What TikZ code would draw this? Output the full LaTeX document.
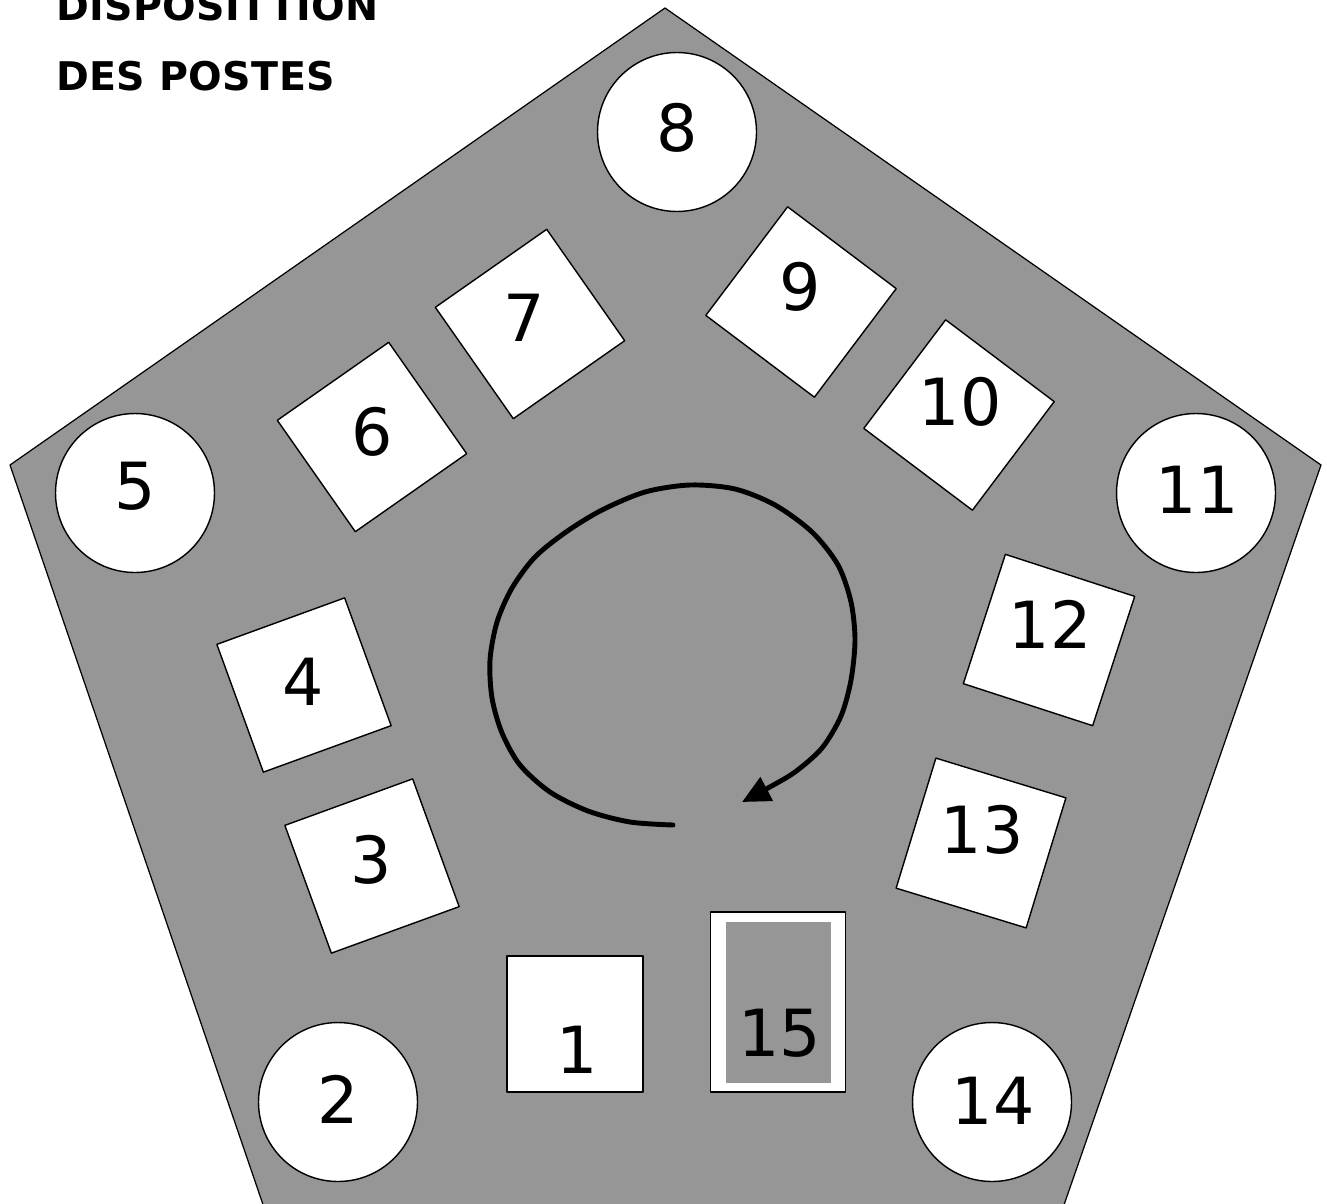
\documentclass[tikz,border=0pt]{standalone}
\usepackage{fontspec}
\setmainfont{DejaVu Sans}
\newfontfamily\titrefont{DejaVu Sans}[LetterSpace=1]
\usetikzlibrary{arrows.meta}
\definecolor{psSol}{HTML}{969696}
\definecolor{psInk}{HTML}{000000}
\tikzset{
  ps plan/.style={x=0.02cm, y=-0.02cm, line join=round},
  ps sol/.style={fill=psSol, draw=psInk, line width=0.7pt},
  ps rond/.style={circle, draw=psInk, fill=white, line width=0.8pt,
    minimum size=3.18cm, inner sep=0pt},
  ps carre/.style={rectangle, draw=psInk, fill=white, line width=0.8pt,
    minimum size=2.72cm, inner sep=0pt},
  ps num/.style={font=\fontsize{37}{44}\selectfont, text=psInk, inner sep=0pt},
  ps titre/.style={font=\titrefont\bfseries\fontsize{22.5}{27}\selectfont,
    text=psInk, anchor=base west, inner sep=0pt},
  ps sens/.style={-{Triangle[length=0.56cm,width=0.52cm]}, draw=psInk,
    line width=2.8pt, line cap=round}
}

\begin{document}
\begin{tikzpicture}[ps plan]
\clip (0,0) rectangle (1327,1203);
\fill[white] (0,0) rectangle (1327,1203);
% salle
\draw[ps sol] (665,8) -- (1321,465) -- (1057,1225) -- (270,1225) -- (10,465) -- cycle;
% titre
\node[ps titre] (titre1) at (56,21) {DISPOSITTION};
\node[ps titre] (titre2) at (56,91) {DES POSTES};
% postes ronds
\node[ps rond] (p8) at (677,132) {};
\node[ps rond] (p5) at (135,493) {};
\node[ps rond] (p11) at (1196,493) {};
\node[ps rond] (p2) at (338,1102) {};
\node[ps rond] (p14) at (992,1102) {};
% postes carres
\node[ps carre,rotate=35] (p7) at (530,324) {};
\node[ps carre,rotate=35] (p6) at (372,437) {};
\node[ps carre,rotate=-37] (p9) at (801,302) {};
\node[ps carre,rotate=-37] (p10) at (959,415) {};
\node[ps carre,rotate=-18] (p12) at (1049,640) {};
\node[ps carre,rotate=-17] (p13) at (981,843) {};
\node[ps carre,rotate=20] (p4) at (304,685) {};
\node[ps carre,rotate=20] (p3) at (372,866) {};
\node[ps carre] (p1) at (575,1024) {};
\node[ps carre,minimum width=2.7cm,minimum height=3.6cm] (p15) at (778,1002) {};
\node[fill=psSol,inner sep=0pt,minimum width=2.1cm,minimum height=3.22cm] (p15in) at (p15) {};
% numeros
\node[ps num] (n1) at (577,1050) {1};
\node[ps num] (n2) at (338,1099) {2};
\node[ps num] (n3) at (371,860) {3};
\node[ps num] (n4) at (303,682) {4};
\node[ps num] (n5) at (135,486) {5};
\node[ps num] (n6) at (372,432) {6};
\node[ps num] (n7) at (524,318) {7};
\node[ps num] (n8) at (677,128) {8};
\node[ps num] (n9) at (800,287) {9};
\node[ps num] (n10) at (960,402) {10};
\node[ps num] (n11) at (1197,490) {11};
\node[ps num] (n12) at (1050,624) {12};
\node[ps num] (n13) at (982,830) {13};
\node[ps num] (n14) at (993,1101) {14};
\node[ps num] (n15) at (780,1033) {15};
% sens de rotation
\draw[ps sens] plot[smooth] coordinates {(673,825) (630,822) (588,811) (550,792)
  (520,765) (502,733) (492,698) (490,660) (497,622) (512,588) (535,557) (566,532)
  (602,510) (645,492) (690,485) (735,489) (775,505) (812,532) (838,565) (851,602)
  (855,640) (851,680) (841,716) (822,748) (795,772) (768,788) (742,802)};
\end{tikzpicture}
\end{document}
